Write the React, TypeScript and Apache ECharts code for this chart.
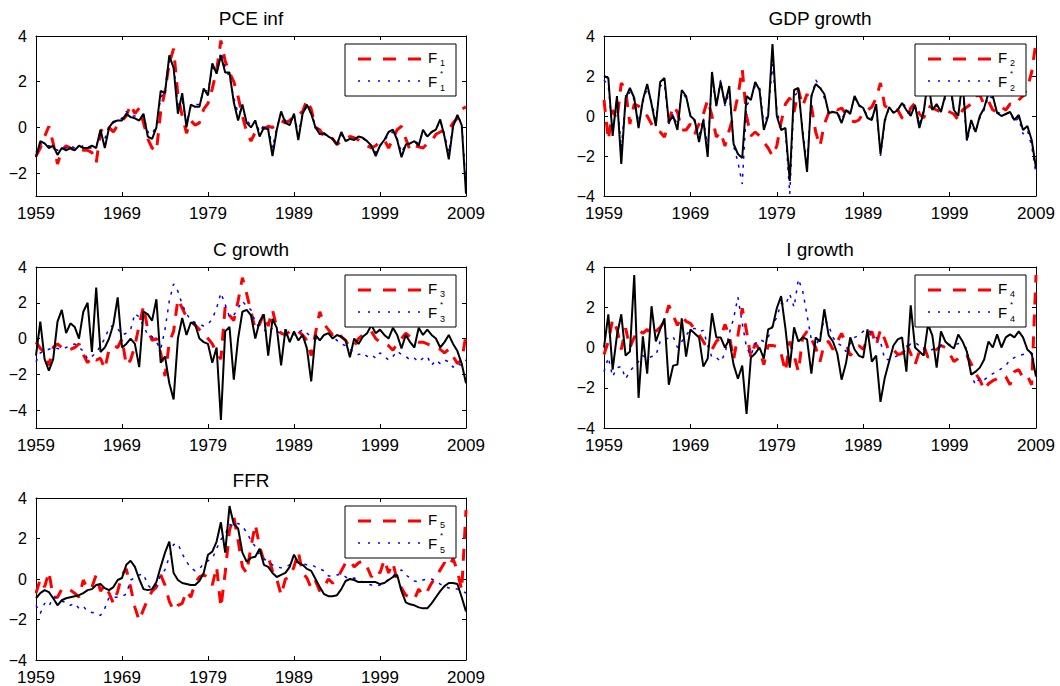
import { useEffect, useRef } from 'react';
import * as echarts from 'echarts';

// Panel data sampled every half year, 1959..2009
const START_YEAR = 1959;
const STEP = 0.5;
const X_MAX = 50;
const X_TICK = 10;

const titles = ['PCE inf', 'GDP growth', 'C growth', 'I growth', 'FFR'];
const yMins = [-3, -4, -5, -4, -4];
const yMaxs = [4, 4, 4, 4, 4];

// PCE inflation
const pceInf = [
  -1.3, -0.6, -0.7, -0.9, -0.8, -1.2, -0.9, -1.0, -0.9, -1.0,
  -0.8, -0.9, -0.9, -0.8, -0.9, -0.1, -0.9, 0.0, 0.25, 0.3,
  0.3, 0.6, 0.45, 0.4, 0.3, 0.6, -0.4, -0.5, 0.0, 1.6,
  1.5, 3.15, 2.6, 0.6, 1.5, 0.0, 1.0, 0.9, 0.9, 1.7,
  1.4, 2.8, 2.35, 3.15, 2.4, 2.4, 1.1, 0.3, 1.0, 0.2,
  0.0, 0.3, -0.4, 0.0, -0.1, -1.25, -0.1, 0.7, 0.2, 0.1,
  0.6, -0.55, 0.6, 1.0, 0.6, 0.0, -0.3, -0.25, -0.4, -0.5,
  -0.75, -0.2, -0.6, -0.5, -0.55, -0.4, -0.45, -0.6, -0.8, -1.25,
  -0.8, -0.55, -0.2, -0.1, -0.55, -1.3, -0.75, -0.7, -0.6, -0.8,
  -0.1, -0.4, -0.2, -0.1, 0.35, -0.4, -1.4, 0.05, 0.55, 0.1,
  -2.9,
];
const pceF = [
  -1.25, -0.9, -0.4, 0.05, -0.7, -1.6, -1.0, -0.8, -0.9, -1.0,
  -0.9, -1.0, -1.0, -1.1, -1.55, -0.2, 0.1, 0.0, -0.2, 0.1,
  0.3, 0.5, 1.0, 0.6, 0.85, 0.2, -0.5, -0.9, -1.05, 0.7,
  1.6, 2.8, 3.45, 1.4, 0.5, -0.25, 0.3, 0.1, 0.2, 0.8,
  1.05, 1.7, 2.5, 3.8, 2.9, 2.4, 2.0, 1.35, 0.5, -0.2,
  -0.6, -0.2, -0.1, -0.05, 0.05, 0.0, 0.1, 0.3, 0.2, 0.3,
  0.5, 0.55, 0.7, 1.2, 0.8, 0.0, -0.1, -0.4, -0.35, -0.5,
  -0.75, -0.6, -0.5, -0.4, -0.45, -0.55, -0.7, -0.8, -0.9, -0.8,
  -0.6, -0.55, -0.9, -0.5, -0.1, 0.05, -0.5, -1.0, -0.8, -0.85,
  -0.9, -0.7, -0.6, -0.3, -0.2, -0.1, -0.1, 0.2, 0.4, 0.8,
  0.9,
];
const pceFStar = [
  -1.1, -0.7, -0.8, -0.8, -0.9, -1.0, -0.9, -0.9, -0.8, -0.9,
  -0.9, -0.8, -0.9, -0.9, -0.8, -0.3, -0.5, 0.1, 0.2, 0.3,
  0.4, 0.7, 0.5, 0.5, 0.4, 0.5, -0.2, -0.3, 0.1, 1.3,
  1.6, 2.9, 2.7, 1.0, 1.2, 0.2, 0.9, 1.0, 1.0, 1.6,
  1.6, 2.6, 2.5, 3.3, 2.6, 2.2, 1.3, 0.6, 0.8, 0.3,
  0.1, 0.3, -0.2, 0.1, 0.0, -0.9, 0.0, 0.6, 0.3, 0.2,
  0.6, -0.3, 0.6, 0.9, 0.6, 0.1, -0.2, -0.3, -0.4, -0.5,
  -0.7, -0.3, -0.6, -0.5, -0.5, -0.4, -0.5, -0.6, -0.8, -1.1,
  -0.8, -0.6, -0.3, -0.2, -0.5, -1.1, -0.7, -0.7, -0.6, -0.7,
  -0.2, -0.4, -0.2, -0.1, 0.3, -0.3, -1.1, 0.1, 0.5, 0.2,
  -2.5,
];

// GDP growth
const gdpGrowth = [
  2.0, 1.9, -1.0, 1.0, -2.4, 0.9, 1.4, 0.9, -0.6, 0.8,
  1.6, 0.6, -0.5, 1.7, 1.9, -0.3, 0.0, -0.7, 1.3, 1.0,
  0.0, -0.2, -1.3, -0.2, -2.05, 2.2, 0.5, 1.7, 0.6, 1.5,
  -1.4, -1.9, -2.1, 1.0, 0.8, 1.7, 1.3, -0.7, 0.0, 3.6,
  0.0, -0.7, -0.6, -3.25, 1.3, 1.4, -0.9, -2.8, 1.0, 1.6,
  1.4, 1.1, 0.15, 0.2, 0.15, -0.35, 0.3, 0.1, 1.0, 0.55,
  0.4, -0.1, -0.2, 0.6, -1.9, -0.2, 0.45, 0.15, 0.3, 0.65,
  0.3, 0.0, 0.55, -0.6, 0.2, 1.8, 0.3, 0.6, 0.2, 1.05,
  1.8, 0.3, 0.0, 1.8, -1.2, -0.2, -0.8, 0.0, 0.4, 1.15,
  1.0, 0.15, 0.0, 0.1, 0.2, -0.2, 0.05, -0.7, -0.5, -1.2,
  -2.6,
];
const gdpF = [
  0.8, -1.2, 0.3, -0.2, 1.65, 1.3, -0.4, 0.6, 0.5, 0.2,
  0.0, -0.4, -0.7, -0.8, -1.05, -0.3, 0.5, 0.2, -0.7, -0.7,
  -0.4, -0.9, -0.4, 0.1, 0.8, 0.0, -1.05, -0.8, -1.5, -0.7,
  0.0, 1.0, 2.35, 0.0, -1.0, -0.8, -1.0, -1.3, -1.6, -2.0,
  -1.5, -0.3, 0.6, 0.9, 0.2, 1.3, 0.5, 1.1, 0.5, -0.8,
  -1.5, -0.4, 0.15, 0.45, 0.3, 0.4, 0.1, -0.2, -0.3, -0.2,
  0.15, 0.3, 0.45, 0.9, 1.65, 0.5, 0.4, 0.45, 0.3, -0.1,
  -0.2, 0.4, 0.65, 0.1, -0.1, 0.5, 0.4, 0.3, 0.2, 0.3,
  0.2, 0.1, -0.2, 0.3, 0.45, 0.6, 1.0, 1.05, 0.55, 0.75,
  0.3, 0.2, 0.45, 0.3, 0.6, 0.55, 0.8, 1.0, 1.4, 2.2,
  3.7,
];
const gdpFStar = [
  1.8, 1.5, -0.8, 0.8, -1.6, 0.7, 1.2, 0.8, -0.3, 0.7,
  1.4, 0.7, -0.2, 1.5, 1.6, -0.4, 0.1, -0.5, 1.2, 0.9,
  0.1, -0.3, -1.0, -0.1, -1.6, 1.8, 0.6, 1.8, 0.5, 1.2,
  -1.5, -2.3, -3.4, 0.5, 0.9, 1.5, 1.5, -0.5, 0.2, 2.6,
  0.3, -0.6, -0.8, -3.9, 1.0, 1.2, -0.7, -2.4, 0.9, 1.8,
  1.5, 0.9, 0.3, 0.2, 0.2, -0.2, 0.3, 0.2, 0.9, 0.5,
  0.4, 0.0, -0.1, 0.5, -2.0, -0.3, 0.4, 0.2, 0.3, 0.7,
  0.4, 0.1, 0.6, -0.4, 0.3, 1.5, 0.4, 0.5, 0.3, 0.9,
  1.5, 0.3, 0.1, 1.5, -1.3, -0.4, -0.8, -0.1, 0.3, 1.0,
  0.9, 0.2, 0.1, 0.1, 0.2, -0.3, -0.1, -0.9, -0.7, -1.5,
  -2.9,
];

// Consumption growth
const cGrowth = [
  -0.95, 0.95, -1.15, -1.8, -1.15, 0.95, 1.6, 0.3, 0.85, 0.65,
  0.0, 1.5, 2.0, -0.75, 2.85, -0.75, -0.5, 0.0, 0.8, 2.3,
  -0.5, -0.3, 0.0, -0.3, -1.6, 1.5, 1.35, 1.0, 2.2, -1.35,
  -1.0, -2.5, -3.4, 0.0, 1.15, 0.2, 0.9, 0.8, 0.0, -0.2,
  -0.3, -1.35, -0.5, -4.55, 0.4, 0.65, -2.3, 0.0, 1.5, 1.6,
  1.3, 0.0, 0.95, 1.35, -0.95, 1.1, 0.6, -1.5, 0.5, -0.2,
  0.4, -0.1, 0.2, -0.55, -2.4, 0.2, -0.1, 0.2, 0.3, 0.0,
  0.2, 0.1, -0.1, -1.05, 0.0, -0.3, 0.1, 0.3, 0.75, 0.3,
  0.5, 0.2, 0.0, 0.6, 0.2, -0.55, 0.2, -0.2, -0.5, 0.6,
  0.2, 0.5, 0.2, 0.0, -0.5, -0.2, 0.2, -0.3, -0.7, -1.4,
  -2.5,
];
const cF = [
  -0.2, -0.55, -0.8, -1.5, -0.5, -0.3, -0.5, -0.65, -0.6, -0.5,
  -0.3, -0.9, -1.35, -1.0, -1.2, -1.1, -1.7, -0.6, -0.4, -0.5,
  0.0, -1.5, -1.2, -0.4, 0.75, 1.8, 0.5, -0.1, 0.0, -0.8,
  -2.1, -0.2, 0.4, 2.2, 1.7, 1.2, 1.0, 0.75, 0.5, 0.3,
  0.0, -0.3, -0.8, -1.15, 1.8, 1.3, 1.0, 2.1, 3.4, 2.5,
  1.5, 0.5, 0.8, 1.4, 0.7, 1.6, 0.6, 0.3, 0.2, 0.4,
  0.5, 0.4, 0.2, -0.1, -0.95, 0.3, 1.5, 0.8, 0.5, 0.2,
  0.4, 0.1, -0.1, -0.5, -0.4, 0.0, 0.2, 0.3, 0.4, 0.0,
  -0.2, -0.3, -0.4, -0.65, -0.3, 0.0, 0.3, 0.1, -0.1, -0.2,
  -0.2, -0.3, -0.4, -0.5, -0.6, -0.8, -0.6, -1.0, -1.4, -1.2,
  0.2,
];
const cFStar = [
  -1.3, -0.8, -0.7, -0.6, -0.5, -0.55, -0.6, -0.5, -0.4, -0.3,
  -0.5, -0.7, -1.15, -1.0, -0.8, -0.4, 0.0, 0.6, 0.75, 0.55,
  0.2, 0.3, 0.5, 1.4, 1.2, 0.7, 0.2, 0.1, -0.2, -0.6,
  0.5, 2.1, 3.05, 2.65, 1.9, 1.4, 1.0, 0.9, 0.8, 0.7,
  0.8, 1.1, 1.7, 2.55, 1.9, 1.2, 1.3, 1.7, 2.1, 1.8,
  1.6, 0.9, 0.6, 0.5, 0.3, 0.6, 0.4, 0.3, 0.5, 0.4,
  0.2, 0.3, 0.5, 0.3, 0.1, 0.0, -0.1, 0.2, 0.3, 0.1,
  -0.1, -0.3, -0.4, -0.6, -0.8, -0.9, -0.8, -1.0, -0.9, -1.1,
  -0.8, -1.0, -1.2, -1.0, -0.7, -0.9, -1.0, -1.2, -1.1, -1.3,
  -1.1, -1.0, -1.5, -1.2, -1.4, -1.2, -1.3, -1.6, -1.4, -1.5,
  -1.2,
];

// Investment growth
const iGrowth = [
  0.0, 1.65, -1.1, 0.6, 1.65, -0.4, -0.2, 3.6, -2.5, 0.55,
  -1.3, 2.05, 0.3, 0.9, 1.45, -1.85, -0.9, -0.85, 1.45, -0.45,
  0.9, 0.7, 0.5, -0.95, -0.55, 1.7, 0.5, 0.5, 0.0, 0.4,
  -0.85, -1.55, -0.9, -3.3, -0.5, -0.3, 0.0, -0.55, 0.9, 1.0,
  1.95, 2.55, 0.95, -1.0, 1.0, 0.3, 0.5, 0.4, -1.3, 0.5,
  0.3, 1.9, 0.6, 0.3, -0.3, -1.6, -0.8, 0.5, -0.1, -0.4,
  -0.5, 0.9, -0.7, -0.4, -2.7, -1.5, -0.7, 0.1, 0.4, 0.5,
  -1.2, 2.1, 0.0, -0.2, -0.4, 1.15, 0.6, -1.0, 0.8, 0.3,
  0.1, -0.05, 0.65, 0.3, -0.2, -1.35, -1.2, -1.0, -0.6, 0.3,
  0.0, 0.65, 0.0, 0.5, 0.65, 0.5, 0.8, 0.5, -0.1, -0.3,
  -1.45,
];
const iF = [
  -0.35, 0.3, 1.4, 0.9, -0.1, 0.95, 0.0, 0.5, 0.9, 0.7,
  0.9, 0.6, 0.8, 1.0, 1.3, 2.1, 1.6, 1.1, 1.55, 1.3,
  1.2, 0.9, 0.65, 0.3, -0.1, -0.1, 0.3, 0.5, 1.15, 0.6,
  -0.6, 0.6, 1.95, 0.8, -0.5, 0.2, -0.1, -0.85, 0.1, 0.1,
  0.05, -0.3, -1.2, 0.3, -0.4, -1.2, 0.5, 0.8, 0.4, 0.0,
  -0.7, 0.2, 0.3, -0.1, 0.3, 0.7, 0.2, -0.4, -0.1, 0.1,
  -0.1, 0.45, 0.8, 0.1, 0.9, 0.4, -0.2, -0.1, -0.35, -0.3,
  0.2, -0.3, -0.85, -0.2, 0.1, -0.5, -0.2, -0.1, 0.1, 0.0,
  -0.3, -0.7, -0.55, -0.6, -0.4, -0.8, -1.3, -1.6, -2.1, -1.8,
  -1.65, -1.55, -1.4, -1.45, -1.85, -1.2, -1.1, -1.5, -1.4, -1.85,
  3.6,
];
const iFStar = [
  -1.2, -0.5, -1.45, -1.0, -0.95, -1.55, -1.2, -0.9, -0.7, -0.4,
  -0.55, -0.45, -0.4, 0.3, 0.45, 0.45, 0.55, 0.0, 0.3, 0.6,
  0.9, 0.95, 0.8, 0.85, 0.1, -0.5, -0.5, -0.7, -0.3, 0.7,
  1.45, 2.5, 1.2, 0.0, -0.4, 0.2, 0.4, 0.3, 0.5, 1.1,
  1.5, 2.2, 2.1, 2.65, 2.0, 3.4, 2.8, 1.6, 0.4, 0.0,
  0.6, 1.4, 1.1, 0.5, 0.2, 0.1, -0.2, 0.2, 0.5, 0.6,
  0.8, 0.9, 0.7, 0.5, 0.3, -0.6, -0.6, -0.5, -0.4, -0.3,
  -0.1, 0.2, 0.25, 0.1, -0.1, -0.2, -0.1, 0.0, 0.1, 0.2,
  0.15, 0.1, 0.2, 0.1, -0.05, -1.4, -1.85, -1.5, -1.6, -1.45,
  -1.3, -1.2, -1.05, -0.9, -0.6, -0.5, -0.4, -0.35, -0.3, -0.3,
  -0.4,
];

// Federal funds rate
const ffr = [
  -0.95, -0.7, -0.55, -0.65, -0.95, -1.3, -1.05, -0.95, -0.9, -0.85,
  -0.8, -0.7, -0.55, -0.5, -0.3, -0.25, -0.45, -0.55, -0.4, -0.05,
  0.05, 0.7, 0.9, 0.6, 0.0, -0.5, -0.55, -0.5, -0.15, 0.6,
  1.3, 1.85, 0.3, -0.05, -0.2, -0.25, -0.3, -0.3, -0.1, 0.3,
  1.2, 1.35, 1.85, 2.8, 1.3, 3.6, 2.7, 2.5, 1.3, 0.85,
  1.05, 1.1, 1.5, 0.7, 0.6, 0.3, 0.1, 0.2, 0.3, 0.6,
  1.2, 0.8, 0.7, 0.5, 0.4, 0.0, -0.4, -0.75, -0.85, -0.85,
  -0.8, -0.5, -0.1, 0.0, -0.05, -0.15, -0.15, -0.15, -0.15, -0.15,
  -0.25, -0.2, -0.05, 0.1, 0.2, -0.6, -1.15, -1.25, -1.3, -1.4,
  -1.45, -1.45, -1.2, -0.9, -0.6, -0.35, -0.2, -0.2, -0.25, -0.9,
  -1.6,
];
const ffrF = [
  -0.7, 0.0, -0.4, 0.35, -0.9, -0.9, -0.5, -0.45, -0.55, -0.7,
  -0.9, -0.05, -0.5, -0.4, 0.2, -0.6, -0.3, -0.7, -1.2, -0.6,
  0.2, 0.5, -0.4, -1.4, -2.05, -1.5, -1.0, -0.6, -0.4, 0.2,
  -0.3, -1.1, -1.55, -1.3, -1.2, -0.6, -0.9, -0.2, 0.1, 0.2,
  0.1, -0.3, 0.6, -1.4, 0.3, 2.4, 3.1, 1.9, 0.6, 0.3,
  1.6, 2.7, 1.6, 0.9, 1.1, 0.4, 0.0, -0.8, 0.0, 0.1,
  0.6, 1.35, 0.3, 0.05, -0.45, -0.1, -0.6, -0.4, 0.0, -0.2,
  0.0, 0.4, 0.8, 0.9, 0.6, 0.8, 0.9, 0.6, 0.1, 0.45,
  0.3, 0.95, 0.3, 0.8, -0.1, -0.45, -0.8, -0.9, -1.0, -0.5,
  -0.8, -0.6, -0.2, 0.1, 0.45, 0.8, 0.6, 1.0, 0.4, -0.55,
  3.4,
];
const ffrFStar = [
  -1.3, -1.7, -1.2, -1.35, -0.9, -0.95, -1.1, -1.15, -1.3, -1.2,
  -1.45, -1.35, -1.6, -1.65, -1.7, -1.8, -1.45, -0.9, -0.9, -0.9,
  -0.85, -0.75, -0.05, 0.05, 0.2, 0.25, -0.3, -0.5, -0.3, 0.2,
  0.45, 1.1, 1.7, 1.75, 1.25, 0.85, 0.55, 0.4, 0.5, 0.75,
  0.9, 1.0, 1.5, 1.95, 2.2, 2.7, 2.6, 2.75, 2.6, 2.3,
  1.9, 1.6, 1.2, 1.0, 0.85, 0.7, 0.6, 0.55, 0.6, 0.7,
  0.8, 0.85, 0.75, 0.7, 0.7, 0.6, 0.5, 0.4, 0.15, 0.15,
  0.2, 0.25, 0.1, 0.0, 0.05, -0.05, -0.15, -0.25, -0.3, -0.35,
  -0.3, -0.2, 0.0, 0.15, 0.3, 0.45, 0.2, 0.05, -0.1, -0.15,
  -0.05, 0.0, 0.0, -0.1, -0.25, -0.35, -0.45, -0.45, -0.5, -0.55,
  -0.7,
];

const actualSeries = [pceInf, gdpGrowth, cGrowth, iGrowth, ffr];
const forecastSeries = [pceF, gdpF, cF, iF, ffrF];
const forecastStarSeries = [pceFStar, gdpFStar, cFStar, iFStar, ffrFStar];

// Panel placement in pixels
const GRIDS = [
  { left: 36, top: 36, width: 430, height: 160 },
  { left: 604, top: 36, width: 432, height: 160 },
  { left: 36, top: 267, width: 430, height: 161 },
  { left: 604, top: 267, width: 432, height: 161 },
  { left: 36, top: 498, width: 430, height: 162 },
];

const FONT = '"Liberation Sans", Arial, Helvetica, sans-serif';
const RED = '#ff0000';
const BLUE = '#0000ff';
const BLACK = '#000000';

const toPoints = (arr: number[]) => arr.map((v, i) => [i * STEP, v]);

const yLabel = (v: number) => {
  if (Math.abs(v % 2) > 1e-9) return '';
  if (v < 0) return '\u2212' + Math.abs(v);
  return String(v);
};

function buildOption() {
  const grid = GRIDS.map((g) => ({ ...g, containLabel: false }));
  const xAxis: any[] = [];
  const yAxis: any[] = [];
  const series: any[] = [];
  const graphic: any[] = [];

  GRIDS.forEach((g, gi) => {
    const common = {
      type: 'value',
      gridIndex: gi,
      splitLine: { show: false },
      axisLine: { show: true, onZero: false, lineStyle: { color: BLACK, width: 1 } },
      axisTick: { show: true, inside: true, length: 4, lineStyle: { color: BLACK, width: 1 } },
    };
    xAxis.push({
      ...common,
      position: 'bottom',
      min: 0,
      max: X_MAX,
      interval: X_TICK,
      axisLabel: {
        color: BLACK,
        fontFamily: FONT,
        fontSize: 17,
        margin: 9,
        formatter: (v: number) => String(START_YEAR + v),
      },
    });
    xAxis.push({
      ...common,
      position: 'top',
      min: 0,
      max: X_MAX,
      interval: X_TICK,
      axisLabel: { show: false },
    });
    yAxis.push({
      ...common,
      position: 'left',
      min: yMins[gi],
      max: yMaxs[gi],
      splitNumber: 4,
      axisLabel: {
        color: BLACK,
        fontFamily: FONT,
        fontSize: 16,
        margin: 9,
        formatter: yLabel,
      },
    });
    yAxis.push({
      ...common,
      position: 'right',
      min: yMins[gi],
      max: yMaxs[gi],
      splitNumber: 4,
      axisLabel: { show: false },
    });

    const base = {
      type: 'line',
      xAxisIndex: gi * 2,
      yAxisIndex: gi * 2,
      symbol: 'none',
      silent: true,
      clip: true,
    };
    series.push({
      ...base,
      name: `F${gi + 1}`,
      data: toPoints(forecastSeries[gi]),
      lineStyle: { color: RED, width: 3, type: [12, 10] },
      z: 2,
    });
    series.push({
      ...base,
      name: `F${gi + 1}*`,
      data: toPoints(forecastStarSeries[gi]),
      lineStyle: { color: BLUE, width: 1.5, type: [3, 6] },
      z: 3,
    });
    series.push({
      ...base,
      name: titles[gi],
      data: toPoints(actualSeries[gi]),
      lineStyle: { color: BLACK, width: 2 },
      z: 4,
    });

    // Panel title
    graphic.push({
      type: 'text',
      x: g.left + g.width / 2,
      y: g.top - 18,
      z: 100,
      style: {
        text: titles[gi],
        font: `19px ${FONT}`,
        fill: BLACK,
        textAlign: 'center',
        textVerticalAlign: 'middle',
      },
    });

    // Legend box
    const bw = 111;
    const bh = 52;
    const bx = g.left + g.width - 10 - bw;
    const by = g.top + 8;
    const idx = String(gi + 1);
    const z = 100;
    const txt = (text: string, x: number, y: number, size: number) => ({
      type: 'text',
      z: z + 1,
      x,
      y,
      style: { text, font: `${size}px ${FONT}`, fill: BLACK, textVerticalAlign: 'middle' },
    });
    graphic.push({
      type: 'group',
      x: bx,
      y: by,
      z,
      children: [
        { type: 'rect', z, shape: { x: 0, y: 0, width: bw, height: bh }, style: { fill: '#fff', stroke: BLACK, lineWidth: 1 } },
        { type: 'line', z: z + 1, shape: { x1: 13, y1: 15, x2: 77, y2: 15 }, style: { stroke: RED, lineWidth: 3, lineDash: [13, 12] } },
        { type: 'line', z: z + 1, shape: { x1: 13, y1: 37, x2: 77, y2: 37 }, style: { stroke: BLUE, lineWidth: 1.5, lineDash: [2, 8] } },
        txt('F', 83, 13, 15),
        txt(idx, 95, 19, 9),
        txt('F', 83, 37, 15),
        txt('*', 95, 29, 8),
        txt(idx, 95, 44, 9),
      ],
    });
  });

  return { animation: false, backgroundColor: '#fff', grid, xAxis, yAxis, series, graphic };
}

export default function App() {
  const ref = useRef<HTMLDivElement>(null);
  useEffect(() => {
    if (!ref.current) return;
    const chart = echarts.init(ref.current, null, { renderer: 'svg' });
    chart.setOption(buildOption());
    return () => chart.dispose();
  }, []);
  return (
    <div
      ref={ref}
      style={{ position: 'fixed', left: 0, top: 0, width: 1060, height: 686, background: '#fff' }}
    />
  );
}
